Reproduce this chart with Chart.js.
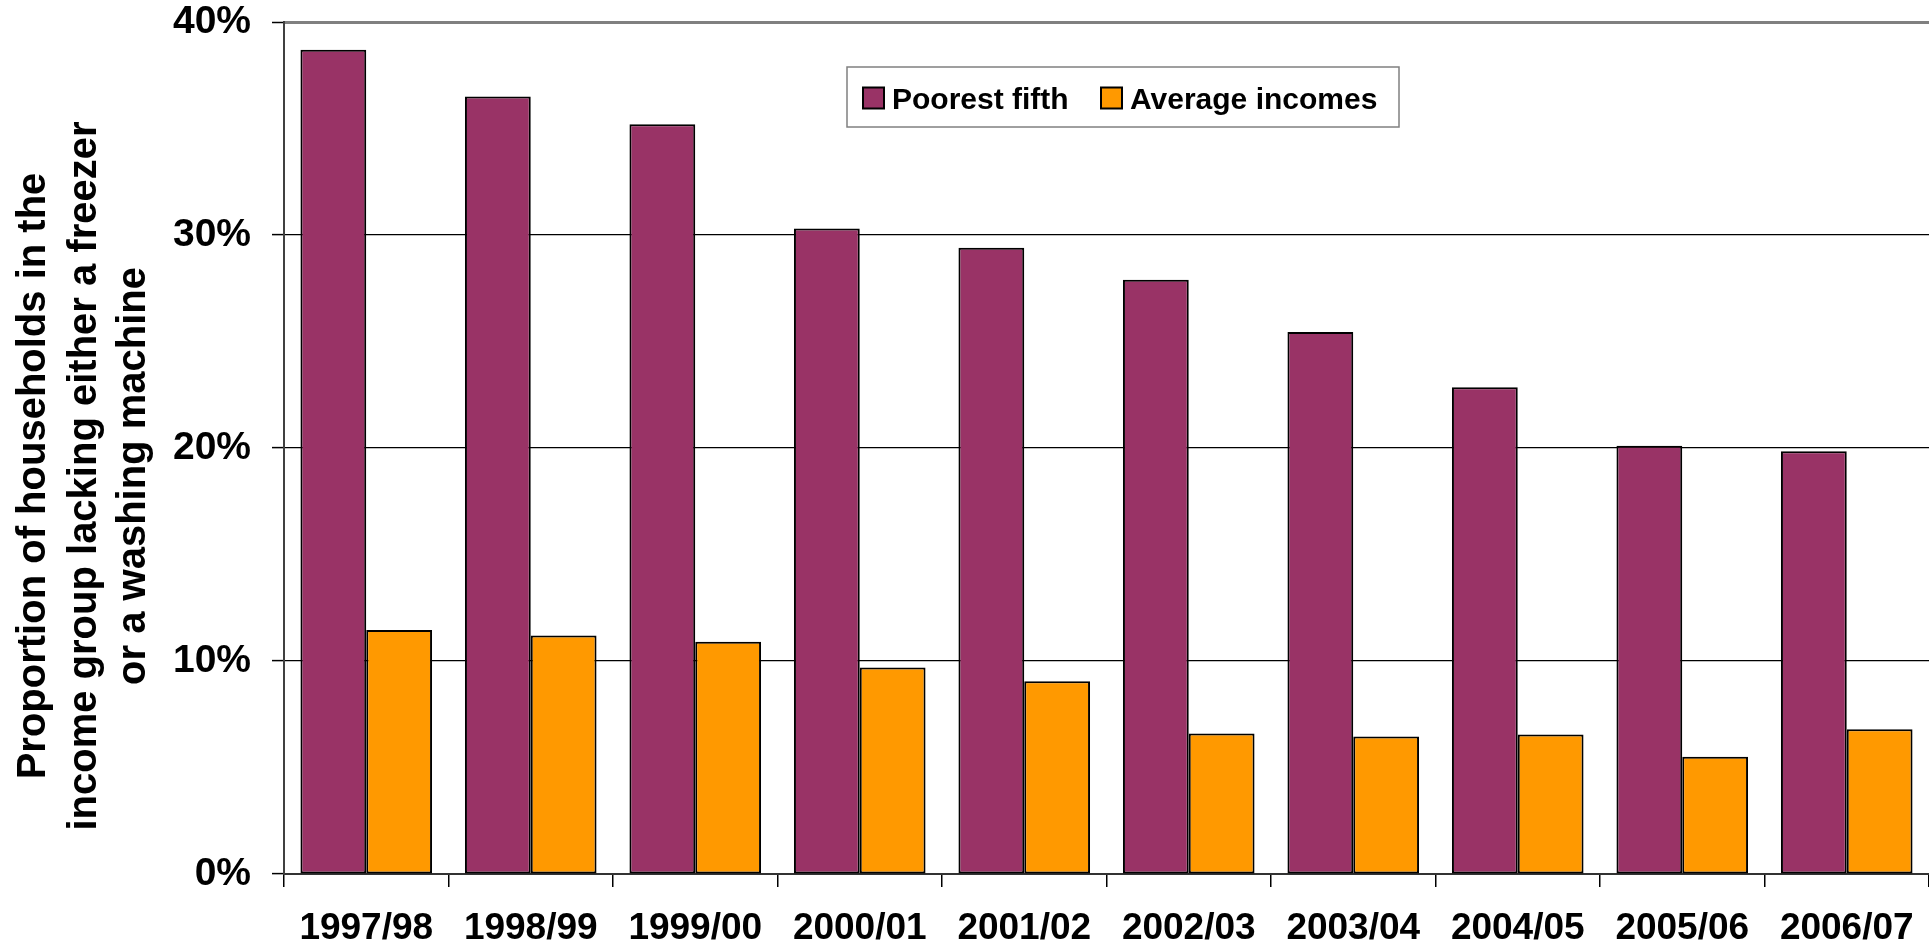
<!DOCTYPE html>
<html>
<head>
<meta charset="utf-8">
<script src="https://cdn.jsdelivr.net/npm/chart.js@4.4.1/dist/chart.umd.min.js"></script>
<style>
  body { margin: 0; background: #fff; }
  canvas { display: block; }
</style>
</head>
<body>
<canvas id="chart" width="1929" height="951"></canvas>
<script>
var years = ["1997/98", "1998/99", "1999/00", "2000/01", "2001/02", "2002/03", "2003/04", "2004/05", "2005/06", "2006/07"];
var poorestFifth = [38.7, 36.5, 35.2, 30.3, 29.4, 27.9, 25.45, 22.85, 20.1, 19.85];
var averageIncomes = [11.45, 11.2, 10.9, 9.7, 9.05, 6.6, 6.45, 6.55, 5.5, 6.8];
var yTicks = [0, 10, 20, 30, 40];
var yTitle = ["Proportion of households in the", "income group lacking either a freezer", "or a washing machine"];

var FONT = "Arial, 'Liberation Sans', sans-serif";

// rotated y title, centred on the whole canvas height like the original
var yTitlePlugin = {
  id: 'yTitle',
  afterDraw: function (chart) {
    var c = chart.ctx;
    var xs = [45, 96, 145];
    c.save();
    c.fillStyle = '#000';
    c.font = 'bold 40px ' + FONT;
    c.textAlign = 'center';
    c.textBaseline = 'alphabetic';
    yTitle.forEach(function (line, i) {
      c.save();
      c.translate(xs[i], 476);
      c.rotate(-Math.PI / 2);
      c.fillText(line, 0, 0);
      c.restore();
    });
    c.restore();
  }
};

// boxed legend inside the plot
var boxLegend = {
  id: 'boxLegend',
  afterDraw: function (chart) {
    var c = chart.ctx;
    c.save();
    c.fillStyle = '#fff';
    c.fillRect(847, 67, 552, 60);
    c.strokeStyle = '#808080';
    c.lineWidth = 1.5;
    c.strokeRect(847, 67, 552, 60);
    var xs = [863, 1101];
    c.font = 'bold 30px ' + FONT;
    c.textBaseline = 'alphabetic';
    c.textAlign = 'left';
    chart.data.datasets.forEach(function (ds, i) {
      c.fillStyle = ds.backgroundColor;
      c.fillRect(xs[i], 87.5, 21, 21);
      c.strokeStyle = '#000';
      c.lineWidth = 2;
      c.strokeRect(xs[i], 87.5, 21, 21);
      c.fillStyle = '#000';
      c.fillText(ds.label, xs[i] + 29, 108.5);
    });
    c.restore();
  }
};

new Chart(document.getElementById('chart'), {
  type: 'bar',
  data: {
    labels: years,
    datasets: [
      {
        label: 'Poorest fifth',
        data: poorestFifth,
        backgroundColor: '#993366',
        borderColor: '#000',
        borderWidth: 2,
        borderSkipped: false,
        categoryPercentage: 0.8,
        barPercentage: 1.0
      },
      {
        label: 'Average incomes',
        data: averageIncomes,
        backgroundColor: '#FF9900',
        borderColor: '#000',
        borderWidth: 2,
        borderSkipped: false,
        categoryPercentage: 0.8,
        barPercentage: 1.0
      }
    ]
  },
  options: {
    responsive: false,
    animation: false,
    layout: { padding: 0 },
    plugins: {
      legend: { display: false },
      tooltip: { enabled: false }
    },
    scales: {
      x: {
        afterFit: function (s) {
          s.height = 77;
          s.paddingLeft = 0;
          s.paddingRight = 0;
        },
        grid: {
          display: true,
          drawOnChartArea: false,
          offset: true,
          color: '#000',
          tickLength: 13,
          lineWidth: 1.5
        },
        border: { display: true, color: '#333', width: 2 },
        ticks: {
          color: '#000',
          padding: 20,
          maxRotation: 0,
          autoSkip: false,
          font: { family: FONT, size: 37, weight: 'bold' }
        }
      },
      y: {
        min: 0,
        max: 40,
        afterFit: function (s) {
          s.width = 284;
          s.paddingTop = 22;
          s.paddingBottom = 0;
        },
        afterBuildTicks: function (s) {
          s.ticks = yTicks.map(function (v) { return { value: v }; });
        },
        grid: {
          color: function (ctx) {
            return ctx.tick && ctx.tick.value === 40 ? '#808080' : '#000';
          },
          lineWidth: function (ctx) {
            return ctx.tick && ctx.tick.value === 40 ? 3 : 1.2;
          },
          tickColor: '#000',
          tickLength: 12,
          tickWidth: 1.5
        },
        border: { display: true, color: '#404040', width: 2 },
        ticks: {
          color: '#000',
          padding: 21,
          font: { family: FONT, size: 39, weight: 'bold' },
          callback: function (v) { return v + '%'; }
        }
      }
    }
  },
  plugins: [yTitlePlugin, boxLegend]
});
</script>
</body>
</html>
